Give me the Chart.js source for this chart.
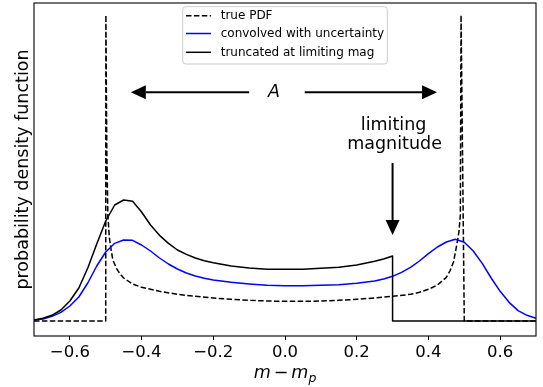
<!DOCTYPE html>
<html>
<head>
<meta charset="utf-8">
<script src="https://cdn.jsdelivr.net/npm/chart.js@4/dist/chart.umd.min.js"></script>
<style>
  html, body { margin: 0; padding: 0; background: #fff; }
  canvas { display: block; }
</style>
</head>
<body>
<canvas id="display1" width="543" height="387"></canvas>
<script>
'use strict';

// x の目盛
var tick_values = [-0.6, -0.4, -0.2, 0.0, 0.2, 0.4, 0.6];
var tick_labels = ['\u22120.6', '\u22120.4', '\u22120.2', '0.0', '0.2', '0.4', '0.6'];

// true PDF
var pdf_x = [-0.7, -0.5, -0.4995, -0.497, -0.494, -0.49, -0.485, -0.48, -0.47, -0.46, -0.45, -0.425, -0.4, -0.375, -0.35,
             -0.3, -0.25, -0.2, -0.15, -0.1, -0.05, 0, 0.05, 0.1, 0.15, 0.2, 0.25, 0.3, 0.35, 0.375, 0.4, 0.425,
             0.45, 0.46, 0.47, 0.48, 0.485, 0.489, 0.491, 0.5, 0.7];
var pdf_y = [0, 0, 9.18, 5.13, 3.18, 2.52, 2.13, 1.83, 1.58, 1.41, 1.29, 1.11, 1.01, 0.95, 0.89,
             0.80, 0.74, 0.69, 0.65, 0.62, 0.60, 0.59, 0.59, 0.60, 0.62, 0.65, 0.69, 0.74, 0.80, 0.86, 0.95, 1.08,
             1.31, 1.50, 1.77, 2.34, 2.67, 3.18, 9.18, 0, 0];

// convolved with uncertainty
var conv_x = [-0.7, -0.675, -0.65, -0.625, -0.6, -0.575, -0.55, -0.525, -0.5, -0.475, -0.45, -0.425, -0.4, -0.375, -0.35, -0.325,
              -0.3, -0.275, -0.25, -0.225, -0.2, -0.15, -0.1, -0.05, 0, 0.05, 0.1, 0.15, 0.2, 0.25, 0.275, 0.3,
              0.325, 0.35, 0.375, 0.4, 0.425, 0.45, 0.475, 0.5, 0.525, 0.55, 0.575, 0.6, 0.625, 0.65, 0.675, 0.7];
var conv_y = [0.03, 0.06, 0.14, 0.26, 0.45, 0.72, 1.14, 1.65, 2.07, 2.33, 2.43, 2.42, 2.28, 2.10, 1.89, 1.71,
              1.56, 1.44, 1.35, 1.28, 1.23, 1.16, 1.11, 1.07, 1.06, 1.06, 1.07, 1.09, 1.13, 1.20, 1.26, 1.34,
              1.46, 1.61, 1.80, 2.02, 2.22, 2.37, 2.45, 2.36, 2.10, 1.73, 1.29, 0.89, 0.56, 0.31, 0.17, 0.08];

// truncated at limiting mag
var trunc_x = [-0.7, -0.675, -0.65, -0.625, -0.6, -0.575, -0.55, -0.525, -0.5, -0.475, -0.45, -0.425, -0.4, -0.375, -0.35, -0.325,
               -0.3, -0.275, -0.25, -0.225, -0.2, -0.15, -0.1, -0.05, 0, 0.05, 0.1, 0.15, 0.2, 0.25, 0.275, 0.3,
               0.3, 0.7];
var trunc_y = [0.03, 0.08, 0.17, 0.33, 0.60, 0.99, 1.59, 2.31, 3.00, 3.48, 3.63, 3.59, 3.27, 2.88, 2.57, 2.33,
               2.13, 2.00, 1.89, 1.81, 1.75, 1.65, 1.59, 1.55, 1.55, 1.55, 1.58, 1.61, 1.68, 1.79, 1.86, 1.95,
               0, 0];

var series_labels = ['true PDF', 'convolved with uncertainty', 'truncated at limiting mag'];

var font_family = '"DejaVu Sans", sans-serif';
var dash = [5.5, 2.4];

function to_points(xs, ys) {
  var pts = [];
  for (var i = 0; i < xs.length; i++) {
    pts.push({x: xs[i], y: ys[i]});
  }
  return pts;
}

// 矢印を描く
function draw_arrow(ctx, x0, y0, x1, y1) {
  var ang = Math.atan2(y1 - y0, x1 - x0);
  var head = 15, half = 7;
  var bx = x1 - head * Math.cos(ang), by = y1 - head * Math.sin(ang);
  ctx.beginPath();
  ctx.moveTo(x0, y0);
  ctx.lineTo(bx, by);
  ctx.lineWidth = 2;
  ctx.strokeStyle = '#000';
  ctx.stroke();
  ctx.beginPath();
  ctx.moveTo(x1, y1);
  ctx.lineTo(bx - half * Math.sin(ang), by + half * Math.cos(ang));
  ctx.lineTo(bx + half * Math.sin(ang), by - half * Math.cos(ang));
  ctx.closePath();
  ctx.fillStyle = '#000';
  ctx.fill();
}

var decor = {
  id: 'decor',
  afterDraw: function(chart) {
    var ctx = chart.ctx;
    var a = chart.chartArea;
    var sx = chart.scales.x, sy = chart.scales.y;
    ctx.save();

    // 枠
    ctx.strokeStyle = '#000';
    ctx.lineWidth = 1.1;
    ctx.setLineDash([]);
    ctx.strokeRect(a.left, a.top, a.right - a.left, a.bottom - a.top);

    // A の矢印
    var ay = sy.getPixelForValue(6.86);
    draw_arrow(ctx, sx.getPixelForValue(-0.1), ay, sx.getPixelForValue(-0.43), ay);
    draw_arrow(ctx, sx.getPixelForValue(0.055), ay, sx.getPixelForValue(0.424), ay);
    ctx.fillStyle = '#000';
    ctx.font = 'italic 17.5px ' + font_family;
    ctx.textAlign = 'center';
    ctx.textBaseline = 'alphabetic';
    ctx.fillText('A', sx.getPixelForValue(-0.031), ay + 5);

    // limiting magnitude
    var lx = sx.getPixelForValue(0.3);
    ctx.font = '17.5px ' + font_family;
    ctx.fillText('limiting', lx + 1, sy.getPixelForValue(5.73));
    ctx.fillText('magnitude', lx + 2, sy.getPixelForValue(5.15));
    draw_arrow(ctx, lx, sy.getPixelForValue(4.74), lx, sy.getPixelForValue(2.58));

    // y 軸タイトル
    ctx.save();
    ctx.translate(28.3, (a.top + a.bottom) / 2);
    ctx.rotate(-Math.PI / 2);
    ctx.font = '17.5px ' + font_family;
    ctx.textAlign = 'center';
    ctx.fillText('probability density function', 0, 0);
    ctx.restore();

    // x 軸タイトル m − m_p
    var base = 378;
    ctx.textAlign = 'left';
    ctx.font = 'italic 17.5px ' + font_family;
    var w_m = ctx.measureText('m').width;
    ctx.font = '17.5px ' + font_family;
    var w_minus = ctx.measureText('\u2212').width;
    ctx.font = 'italic 12.5px ' + font_family;
    var w_p = ctx.measureText('p').width;
    var gap = 3;
    var total = w_m * 2 + w_minus + gap * 2 + w_p;
    var tx = (a.left + a.right) / 2 - total / 2;
    ctx.font = 'italic 17.5px ' + font_family;
    ctx.fillText('m', tx, base);
    tx += w_m + gap;
    ctx.font = '17.5px ' + font_family;
    ctx.fillText('\u2212', tx, base);
    tx += w_minus + gap;
    ctx.font = 'italic 17.5px ' + font_family;
    ctx.fillText('m', tx, base);
    tx += w_m;
    ctx.font = 'italic 12.5px ' + font_family;
    ctx.fillText('p', tx, base + 3.5);

    // 凡例
    var lg_x = 182.7, lg_y = 6.7, lg_w = 204.6, lg_h = 57.3;
    ctx.beginPath();
    ctx.roundRect(lg_x, lg_y, lg_w, lg_h, 3);
    ctx.fillStyle = 'rgba(255,255,255,0.8)';
    ctx.fill();
    ctx.strokeStyle = '#cccccc';
    ctx.lineWidth = 1;
    ctx.stroke();
    var rows = [15.7, 33.5, 52.3];
    var ds = chart.data.datasets;
    ctx.font = '12px ' + font_family;
    ctx.textBaseline = 'middle';
    for (var i = 0; i < rows.length; i++) {
      ctx.beginPath();
      ctx.setLineDash(ds[i].borderDash || []);
      ctx.strokeStyle = ds[i].borderColor;
      ctx.lineWidth = 1.5;
      ctx.moveTo(186, rows[i]);
      ctx.lineTo(211, rows[i]);
      ctx.stroke();
      ctx.setLineDash([]);
      ctx.fillStyle = '#000';
      ctx.fillText(series_labels[i], 220.7, rows[i] + 0.5);
    }
    ctx.restore();
  }
};

window.addEventListener('load', function() {
  var ctx = document.getElementById('display1').getContext('2d');

  var chart = new Chart(ctx, {
    type: 'line',
    data: {
      datasets: [
        {
          label: series_labels[0],
          data: to_points(pdf_x, pdf_y),
          borderColor: '#000000',
          borderDash: dash,
          order: 3
        },
        {
          label: series_labels[1],
          data: to_points(conv_x, conv_y),
          borderColor: '#0000ff',
          order: 2
        },
        {
          label: series_labels[2],
          data: to_points(trunc_x, trunc_y),
          borderColor: '#000000',
          order: 1
        }
      ]
    },
    options: {
      responsive: false,
      animation: false,
      devicePixelRatio: 1,
      parsing: false,
      elements: {
        line: { borderWidth: 1.5, tension: 0, fill: false, borderJoinStyle: 'round' },
        point: { radius: 0, hoverRadius: 0 }
      },
      layout: { padding: { top: 3, right: 7, left: 0, bottom: 0 } },
      plugins: { legend: { display: false }, tooltip: { enabled: false } },
      scales: {
        x: {
          type: 'linear',
          min: -0.7,
          max: 0.7,
          afterBuildTicks: function(scale) {
            scale.ticks = tick_values.map(function(v) { return {value: v}; });
          },
          afterFit: function(scale) { scale.height = 51; },
          ticks: {
            callback: function(value, index) { return tick_labels[index]; },
            font: { family: font_family, size: 16.5 },
            color: '#000',
            padding: 3,
            maxRotation: 0,
            autoSkip: false
          },
          grid: { drawOnChartArea: false, drawTicks: true, tickLength: 4, color: '#000', lineWidth: 1 },
          border: { display: false }
        },
        y: {
          type: 'linear',
          min: -0.45,
          max: 9.54,
          afterFit: function(scale) { scale.width = 34; },
          ticks: { display: false },
          grid: { display: false },
          border: { display: false }
        }
      }
    },
    plugins: [decor]
  });
});
</script>
</body>
</html>
